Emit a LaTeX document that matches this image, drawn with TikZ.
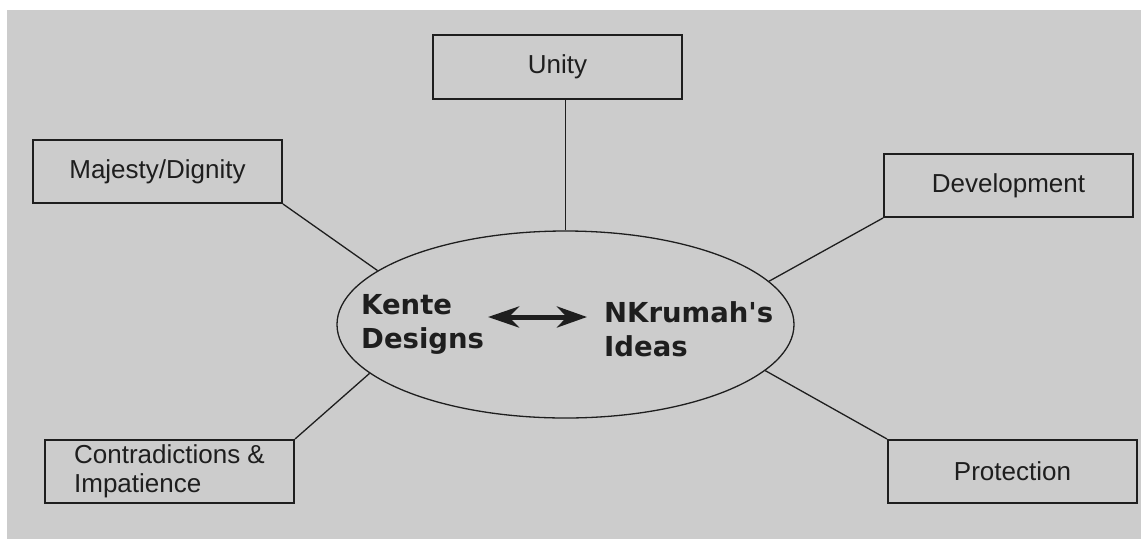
\documentclass[tikz,border=0pt]{standalone}
\usepackage{fontspec}
\setmainfont{Liberation Sans}
\newfontfamily\bigfont{DejaVu Sans}
\usetikzlibrary{shapes.geometric,arrows.meta}
\definecolor{bggray}{HTML}{CCCCCC}
\definecolor{ink}{HTML}{1E1E1E}
\tikzset{
  x=1pt,y=-1pt,
  box/.style={draw=ink,line width=2pt,minimum width=249pt,minimum height=63pt,inner sep=0pt,
              font=\fontsize{26}{29}\selectfont,text=ink},
  conn/.style={draw=ink,line width=1.3pt},
  bigtext/.style={inner sep=0pt,align=left,font=\bigfont\bfseries\fontsize{27.5}{34}\selectfont,text=ink}
}
\begin{document}
\begin{tikzpicture}
\useasboundingbox (0,0) rectangle (1141,539);
\fill[white] (0,0) rectangle (1141,539);
\fill[bggray] (7,10) rectangle (1141,539);
% central ellipse
\node[ellipse,draw=ink,line width=1.3pt,minimum width=457pt,minimum height=187pt,inner sep=0pt] (c) at (565.5,324.5) {};
% outer boxes
\node[box,minimum height=64pt] (unity) at (557.5,67) {Unity};
\node[box] (maj) at (157.5,171.5) {Majesty/Dignity};
\node[box] (dev) at (1008.5,185.5) {Development};
\node[box,align=left] (con) at (169.5,471.5) {Contradictions \&\\Impatience};
\node[box] (pro) at (1012.5,471.5) {Protection};
% central texts (base anchor = baseline of last line)
\node[bigtext,anchor=base west] (kente) at (361,348) {Kente\\Designs};
\node[bigtext,anchor=base west] (nkr) at (604,356) {NKrumah's\\Ideas};
% double arrow
\coordinate (al) at (488,317);
\coordinate (ar) at (587,317);
\draw[ink,line width=5pt,{Stealth[length=31pt,width=21pt]}-{Stealth[length=30pt,width=21pt]}] (al) -- (ar);
% connectors
\draw[conn] (c.north) -- (c.north |- unity.south);
\draw[conn] (maj.south east) -- (c.164.4);
\draw[conn] (dev.south west) -- (c.12.8);
\draw[conn] (con.north east) -- (c.194.8);
\draw[conn] (pro.north west) -- (c.347.3);
\end{tikzpicture}
\end{document}
